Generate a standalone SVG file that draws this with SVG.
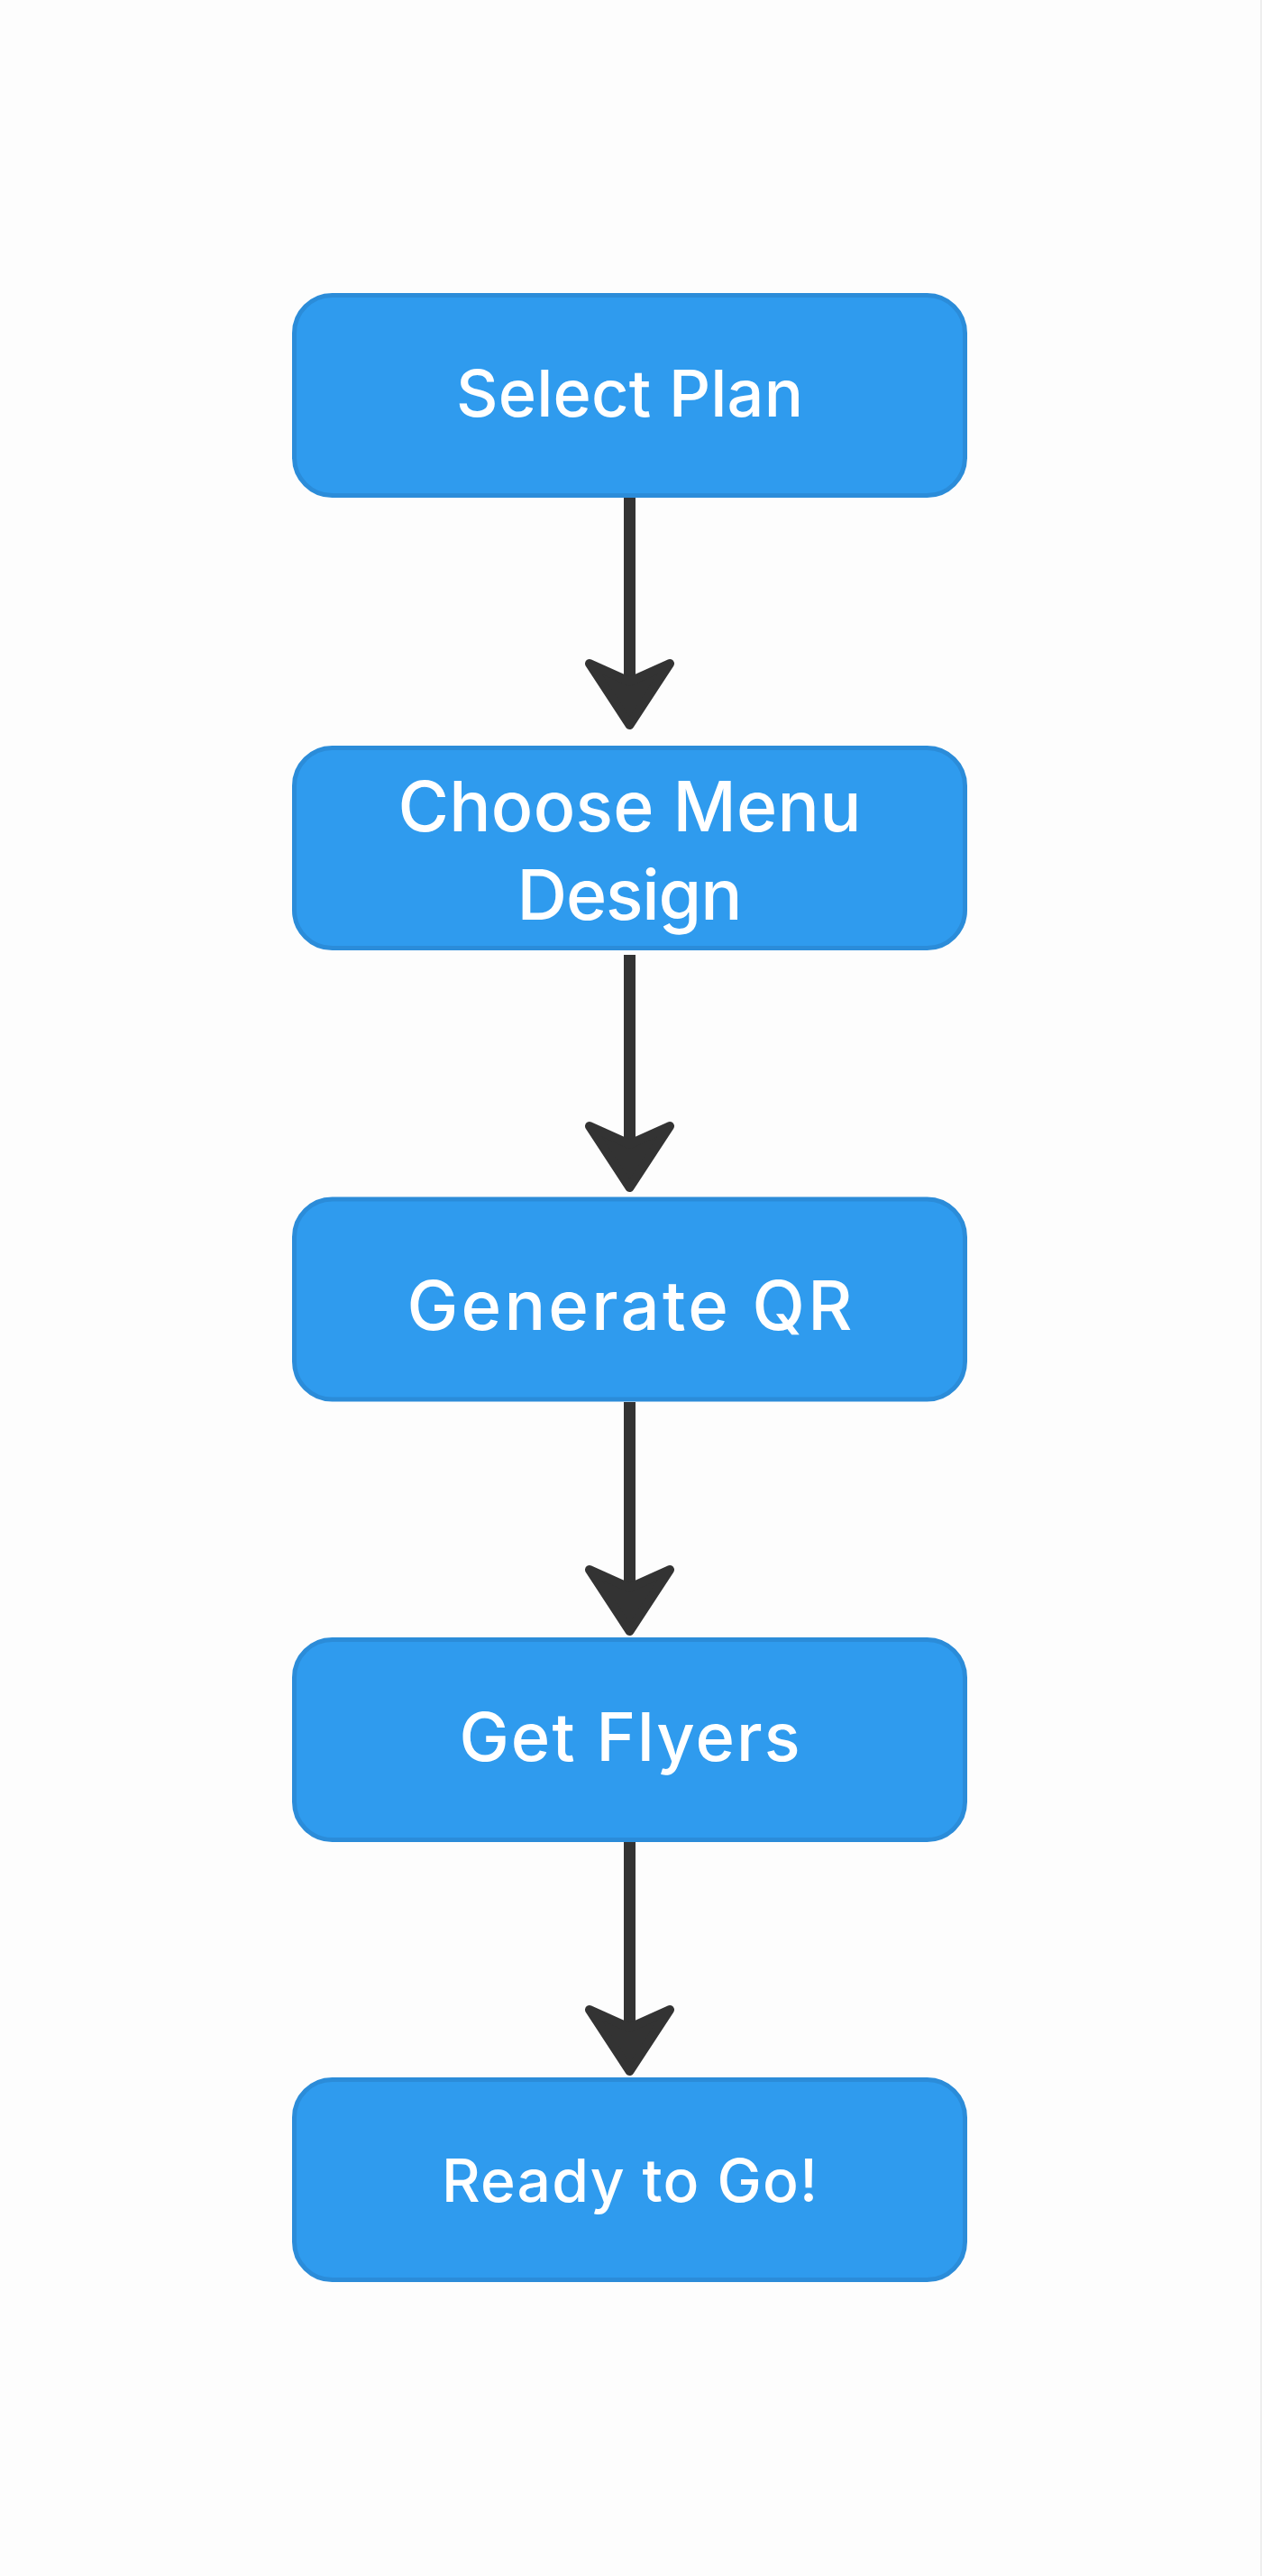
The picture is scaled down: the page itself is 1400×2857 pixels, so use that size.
<svg xmlns="http://www.w3.org/2000/svg" width="1400" height="2857" viewBox="0 0 1400 2857">
<defs>
<style>
.box{fill:#2f9bee;stroke:#2b8cd9;stroke-width:5}
.lbl{fill:#ffffff;font-family:Inter,"Liberation Sans",sans-serif;font-weight:500;text-anchor:middle}
.edge{stroke:#333333;stroke-width:13;fill:none}
.head{fill:#333333;stroke:#333333;stroke-width:10;stroke-linejoin:round}
</style>
</defs>
<rect x="0" y="0" width="1400" height="2857" fill="#fdfdfd"/>
<line x1="1399" y1="0" x2="1399" y2="2857" stroke="#eeeeee" stroke-width="2"/>
<g id="connectors">
<g id="e1"><line class="edge" x1="698.5" y1="552" x2="698.5" y2="770"/><path class="head" d="M698.5,804 L654,736 L698.5,756 L743,736 Z"/></g>
<g id="e2"><line class="edge" x1="698.5" y1="1059" x2="698.5" y2="1283"/><path class="head" d="M698.5,1317 L654,1249 L698.5,1269 L743,1249 Z"/></g>
<g id="e3"><line class="edge" x1="698.5" y1="1555" x2="698.5" y2="1775"/><path class="head" d="M698.5,1809 L654,1741 L698.5,1761 L743,1741 Z"/></g>
<g id="e4"><line class="edge" x1="698.5" y1="2043" x2="698.5" y2="2263"/><path class="head" d="M698.5,2297 L654,2229 L698.5,2249 L743,2229 Z"/></g>
</g>
<g id="n1"><rect class="box" x="326.5" y="327.5" width="744" height="222" rx="42"/><text class="lbl" x="698.5" y="462" font-size="72" textLength="385" lengthAdjust="spacing">Select Plan</text></g>
<g id="n2"><rect class="box" x="326.5" y="829.5" width="744" height="222" rx="42"/><text class="lbl" x="698.5" y="922" font-size="77" textLength="514" lengthAdjust="spacing">Choose Menu</text><text class="lbl" x="698.5" y="1020" font-size="77" textLength="250" lengthAdjust="spacing">Design</text></g>
<g id="n3"><rect class="box" x="326.5" y="1330" width="744" height="222" rx="42"/><text class="lbl" x="698.5" y="1475" font-size="76" textLength="494" lengthAdjust="spacing">Generate QR</text></g>
<g id="n4"><rect class="box" x="326.5" y="1818.5" width="744" height="222" rx="42"/><text class="lbl" x="698.5" y="1953" font-size="74" textLength="378" lengthAdjust="spacing">Get Flyers</text></g>
<g id="n5"><rect class="box" x="326.5" y="2306.5" width="744" height="222" rx="42"/><text class="lbl" x="698.5" y="2442" font-size="66" textLength="417" lengthAdjust="spacing">Ready to Go!</text></g>
</svg>
